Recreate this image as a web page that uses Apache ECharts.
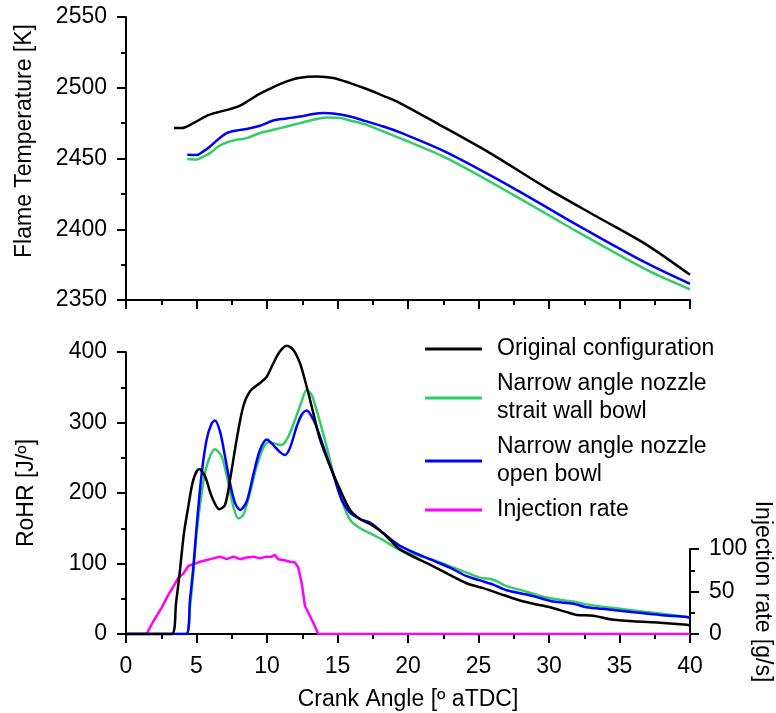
<!DOCTYPE html>
<html><head><meta charset="utf-8">
<script src="https://cdn.jsdelivr.net/npm/echarts@6/dist/echarts.min.js"></script>
<style>html,body{margin:0;padding:0;background:#fff}#c{width:776px;height:713px}</style>
</head><body><div id="c"></div>
<script>
// ---------- Data ----------
const seriesNames = ['Original configuration', 'Narrow angle nozzle\nstrait wall bowl', 'Narrow angle nozzle\nopen bowl', 'Injection rate'];
const xTicks = [0, 5, 10, 15, 20, 25, 30, 35, 40];

// Flame temperature [K]
const tOrigX = [3.40, 3.95, 4.78, 5.72, 6.43, 7.38, 8.09, 8.79, 9.50, 10.45, 11.40, 12.34, 13.52, 14.70, 15.89, 17.07, 18.25, 19.43, 22.03, 25.82, 29.84, 33.38, 36.93, 40];
const tOrigY = [2471.5, 2471.5, 2475.0, 2480.2, 2482.5, 2484.9, 2487.3, 2491.5, 2495.8, 2500.5, 2504.5, 2507.1, 2508.0, 2506.9, 2503.3, 2499.1, 2494.3, 2489.2, 2475.0, 2453.8, 2429.1, 2409.0, 2389.0, 2367.8];
const tWallX = [4.35, 5.01, 5.48, 5.96, 6.55, 7.14, 7.85, 8.56, 9.50, 10.45, 11.40, 12.34, 13.29, 14.23, 15.18, 15.89, 17.07, 18.25, 19.43, 22.74, 27.47, 32.20, 36.93, 40];
const tWallY = [2449.6, 2449.3, 2451.4, 2453.8, 2458.5, 2461.3, 2463.2, 2464.4, 2468.0, 2470.3, 2472.6, 2475.0, 2477.4, 2479.0, 2478.6, 2476.9, 2473.8, 2469.1, 2464.4, 2450.3, 2424.3, 2397.2, 2371.3, 2357.6];
const tOpenX = [4.35, 5.01, 5.48, 5.96, 6.55, 7.14, 7.85, 8.56, 9.50, 10.45, 11.40, 12.34, 13.29, 14.00, 14.70, 15.89, 17.07, 18.25, 19.43, 22.74, 27.47, 32.20, 36.93, 40];
const tOpenY = [2452.6, 2452.4, 2455.0, 2458.5, 2463.7, 2468.0, 2469.8, 2470.8, 2473.1, 2476.9, 2478.3, 2479.7, 2481.4, 2482.1, 2481.8, 2479.7, 2476.2, 2472.6, 2468.4, 2454.3, 2429.1, 2401.9, 2376.0, 2361.4];

// Rate of heat release [J/deg]
const rOrigX = [0, 3.24, 3.55, 3.83, 4.11, 4.42, 4.78, 5.20, 5.60, 6.08, 6.62, 7.02, 7.38, 7.85, 8.32, 8.79, 9.50, 9.98, 10.45, 10.92, 11.40, 11.87, 12.34, 12.81, 13.29, 13.76, 14.47, 15.18, 15.89, 16.60, 17.30, 18.25, 19.43, 21.80, 24.16, 25.34, 26.52, 27.71, 28.89, 30.07, 31.25, 31.96, 33.14, 34.33, 35.98, 37.87, 39.77, 40];
const rOrigY = [0, 0, 44, 91, 143, 181, 219, 234, 224, 195, 177, 183, 219, 276, 323, 344, 356, 365, 384, 401, 409, 403, 384, 351, 313, 276, 238, 205, 176, 163, 156, 143, 120, 96, 72, 65, 57, 49, 43, 38, 31, 27, 26, 21, 18, 16, 13, 12];
const rWallX = [0, 4.26, 4.54, 4.78, 5.01, 5.37, 5.72, 6.31, 6.78, 7.26, 7.61, 7.97, 8.32, 8.79, 9.27, 9.74, 10.09, 10.57, 11.04, 11.51, 11.99, 12.46, 12.81, 13.17, 13.64, 14.23, 14.70, 15.30, 15.89, 16.60, 17.30, 18.25, 19.43, 21.80, 22.98, 24.16, 25.10, 26.05, 27.00, 28.42, 29.36, 30.30, 31.72, 32.67, 34.09, 35.98, 37.87, 39.77, 40];
const rWallY = [0, 0, 39, 87, 143, 200, 238, 262, 252, 214, 181, 164, 169, 200, 238, 264, 272, 270, 268, 280, 304, 330, 346, 339, 309, 266, 228, 190, 162, 150, 143, 133, 119, 105, 96, 87, 80, 77, 68, 60, 54, 50, 46, 42, 38, 33.5, 29, 24, 23];
const rOpenX = [0, 4.26, 4.54, 4.78, 5.01, 5.37, 5.72, 6.08, 6.31, 6.67, 7.02, 7.38, 7.73, 8.09, 8.56, 9.03, 9.50, 9.98, 10.45, 10.92, 11.28, 11.63, 12.10, 12.46, 12.81, 13.29, 13.76, 14.23, 14.70, 15.30, 15.89, 16.60, 17.30, 18.25, 19.43, 21.80, 22.98, 24.16, 25.10, 26.05, 27.00, 28.42, 29.36, 30.30, 31.72, 32.67, 34.09, 35.98, 37.87, 39.77, 40];
const rOpenY = [0, 0, 49, 96, 153, 228, 276, 299, 303, 287, 252, 214, 186, 176, 188, 226, 261, 276, 268, 258, 254, 264, 294, 311, 317, 304, 280, 252, 226, 190, 172, 163, 158, 143, 125, 104, 94, 82, 76, 70, 62, 56, 51, 46, 43, 38, 35, 31, 27, 24, 23];

// Injection rate [g/s]
const injX = [0, 1.47, 1.94, 2.53, 3.00, 3.36, 3.71, 4.06, 4.42, 4.78, 5.25, 5.72, 6.19, 6.67, 7.14, 7.61, 8.09, 8.56, 9.03, 9.50, 9.98, 10.33, 10.57, 10.80, 11.16, 11.63, 11.99, 12.22, 12.46, 12.69, 12.93, 13.29, 13.64, 40];
const injY = [0, 0, 15, 31, 46, 56, 66, 71, 80, 82, 85, 87, 89, 91, 88, 91, 88, 90, 91, 89, 91, 91, 93, 88, 87, 85, 84, 78, 60, 33, 25, 13, 0, 0];

// ---------- Chart ----------
const zip = (xs, ys) => xs.map((x, i) => [x, ys[i]]);
const FONT = 'Liberation Sans, Arial, sans-serif';
const FS = 23;
const black = '#000';
const axisLine = { show: true, onZero: false, lineStyle: { color: black, width: 2 } };
const axisTick = { show: true, length: 9, lineStyle: { color: black, width: 2 } };
const minorTick = { show: true, splitNumber: 2, length: 5, lineStyle: { color: black, width: 2 } };
const label = { fontSize: FS, color: black, fontFamily: FONT, margin: 19, formatter: v => String(v) };
const nameStyle = { fontSize: FS, color: black, fontFamily: FONT };
const COLORS = ['#000000', '#33cc66', '#0000ff', '#ff00ff'];

const chart = echarts.init(document.getElementById('c'));
chart.setOption({
  animation: false,
  textStyle: { fontFamily: FONT },
  grid: [
    { left: 126, right: 86, top: 17, height: 283, containLabel: false, outerBoundsMode: 'none' },
    { left: 126, right: 86, top: 352, height: 282, containLabel: false, outerBoundsMode: 'none' },
    { left: 126, right: 86, top: 549, height: 85, containLabel: false, outerBoundsMode: 'none' }
  ],
  legend: {
    left: 425, top: 335, orient: 'vertical', padding: 0, itemGap: 7,
    icon: 'rect', itemWidth: 57, itemHeight: 3,
    selectedMode: false,
    textStyle: { fontSize: FS, lineHeight: 28, color: black, fontFamily: FONT, padding: [0, 0, 0, 10] },
    data: seriesNames
  },
  xAxis: [
    { gridIndex: 0, type: 'value', min: 0, max: 40, interval: 5, axisLine, axisTick, minorTick,
      axisLabel: { show: false }, splitLine: { show: false } },
    { gridIndex: 1, type: 'value', min: 0, max: 40, interval: 5, axisLine, axisTick, minorTick,
      axisLabel: Object.assign({}, label, { margin: 21, formatter: v => xTicks.includes(v) ? String(v) : '' }),
      splitLine: { show: false },
      name: 'Crank Angle [º aTDC]', nameLocation: 'middle', nameGap: 54, nameMoveOverlap: false,
      nameTextStyle: nameStyle },
    { gridIndex: 2, type: 'value', min: 0, max: 40, show: false }
  ],
  yAxis: [
    { gridIndex: 0, type: 'value', min: 2350, max: 2550, interval: 50, axisLine, axisTick, minorTick,
      axisLabel: label, splitLine: { show: false },
      name: 'Flame Temperature [K]', nameLocation: 'middle', nameGap: 90, nameMoveOverlap: false,
      nameTextStyle: Object.assign({}, nameStyle, { padding: [0, 0, 0, 35] }) },
    { gridIndex: 1, type: 'value', min: 0, max: 400, interval: 100, axisLine, axisTick, minorTick,
      axisLabel: label, splitLine: { show: false },
      name: 'RoHR [J/º]', nameLocation: 'middle', nameGap: 88, nameMoveOverlap: false,
      nameTextStyle: nameStyle },
    { gridIndex: 2, type: 'value', position: 'right', min: 0, max: 100, interval: 50, axisLine, axisTick, minorTick,
      axisLabel: label, splitLine: { show: false },
      name: 'Injection rate [g/s]', nameLocation: 'middle', nameGap: 61, nameRotate: -90, nameMoveOverlap: false,
      nameTextStyle: nameStyle }
  ],
  series: [
    { name: seriesNames[1], type: 'line', xAxisIndex: 0, yAxisIndex: 0, data: zip(tWallX, tWallY), smooth: 0.3, showSymbol: false, lineStyle: { color: COLORS[1], width: 2.5 }, itemStyle: { color: COLORS[1] } },
    { name: seriesNames[2], type: 'line', xAxisIndex: 0, yAxisIndex: 0, data: zip(tOpenX, tOpenY), smooth: 0.3, showSymbol: false, lineStyle: { color: COLORS[2], width: 2.5 }, itemStyle: { color: COLORS[2] } },
    { name: seriesNames[0], type: 'line', xAxisIndex: 0, yAxisIndex: 0, data: zip(tOrigX, tOrigY), smooth: 0.3, showSymbol: false, lineStyle: { color: COLORS[0], width: 2.5 }, itemStyle: { color: COLORS[0] } },
    { name: seriesNames[3], type: 'line', xAxisIndex: 2, yAxisIndex: 2, data: zip(injX, injY), smooth: false, showSymbol: false, lineStyle: { color: COLORS[3], width: 2.5 }, itemStyle: { color: COLORS[3] } },
    { name: seriesNames[1], type: 'line', xAxisIndex: 1, yAxisIndex: 1, data: zip(rWallX, rWallY), smooth: 0.3, showSymbol: false, lineStyle: { color: COLORS[1], width: 2.5 }, itemStyle: { color: COLORS[1] } },
    { name: seriesNames[2], type: 'line', xAxisIndex: 1, yAxisIndex: 1, data: zip(rOpenX, rOpenY), smooth: 0.3, showSymbol: false, lineStyle: { color: COLORS[2], width: 2.5 }, itemStyle: { color: COLORS[2] } },
    { name: seriesNames[0], type: 'line', xAxisIndex: 1, yAxisIndex: 1, data: zip(rOrigX, rOrigY), smooth: 0.3, showSymbol: false, clip: false, lineStyle: { color: COLORS[0], width: 2.5 }, itemStyle: { color: COLORS[0] } }
  ]
});
</script>
</body></html>
